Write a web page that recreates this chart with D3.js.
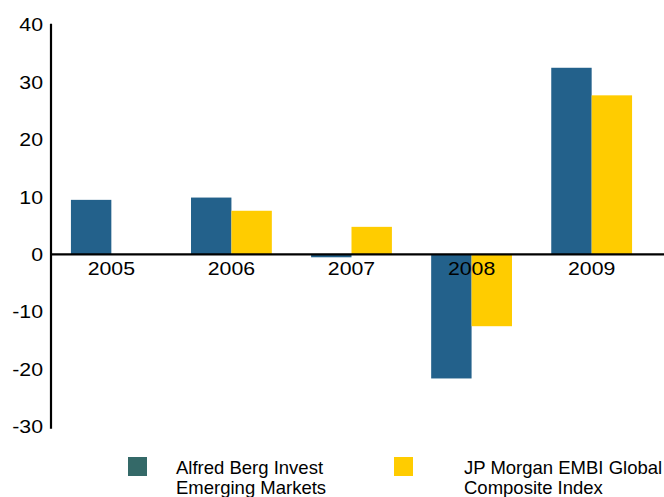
<!DOCTYPE html>
<html>
<head>
<meta charset="utf-8">
<script src="https://cdn.jsdelivr.net/npm/d3@7/dist/d3.min.js"></script>
<style>
  body { margin: 0; background: #fff; }
  svg text { font-family: 'Liberation Sans', Arial, sans-serif; fill: #000; }
</style>
</head>
<body>
<div id="chart"></div>
<script>
const years = ['2005', '2006', '2007', '2008', '2009'];
const alfredBerg = [9.5, 9.9, -0.5, -21.6, 32.5];
const jpMorgan = [null, 7.6, 4.8, -12.5, 27.7];
const yTicks = [40, 30, 20, 10, 0, -10, -20, -30];
const seriesNames = [
  ['Alfred Berg Invest', 'Emerging Markets'],
  ['JP Morgan EMBI Global', 'Composite Index'],
];

const width = 664;
const height = 497;
const left = 51;

const svg = d3
  .select('#chart')
  .append('svg')
  .attr('width', width)
  .attr('height', height);

const yScale = d3
  .scaleLinear()
  .domain([-30, 40])
  .range([426.7, 24.7]);

const xScale = d3
  .scaleBand()
  .domain(years)
  .range([left, left + 601])
  .paddingInner(0.327)
  .paddingOuter(0.166);

const sub = d3
  .scaleBand()
  .domain([0, 1])
  .range([0, xScale.bandwidth()]);

const colors = ['#23618B', '#FFCC00'];

// stretch labels a bit wider, the original font runs wide
function widen(sel, k) {
  sel.each(function () {
    const w = this.getComputedTextLength();
    d3.select(this).attr('textLength', w * k).attr('lengthAdjust', 'spacingAndGlyphs');
  });
}

// y axis
const yAxis = svg
  .append('g')
  .attr('transform', `translate(${left},0)`)
  .call(d3.axisLeft(yScale).tickValues(yTicks).tickSize(0).tickPadding(8)
    .tickFormat(d => String(d)));
yAxis.select('.domain').attr('stroke', '#000').attr('stroke-width', 2.2)
  .attr('d', `M0,${yScale(40) - 1}V${yScale(-30) + 2}`);
yAxis.selectAll('text')
  .style('font-size', '19px')
  .style('font-family', "'Liberation Sans', Arial, sans-serif")
  .call(widen, 1.12);

// bars
[alfredBerg, jpMorgan].forEach((series, i) => {
  svg
    .append('g')
    .selectAll('rect')
    .data(series.map((v, j) => ({ year: years[j], v })).filter(d => d.v !== null))
    .enter()
    .append('rect')
    .attr('x', d => xScale(d.year) + sub(i))
    .attr('width', sub.bandwidth())
    .attr('y', d => Math.min(yScale(d.v), yScale(0)))
    .attr('height', d => Math.abs(yScale(d.v) - yScale(0)))
    .attr('fill', colors[i]);
});

// zero line with category labels
const xAxis = svg
  .append('g')
  .attr('transform', `translate(0,${yScale(0)})`)
  .call(d3.axisBottom(xScale).tickSize(0).tickPadding(7));
xAxis.select('.domain').attr('stroke', '#000').attr('stroke-width', 2.4)
  .attr('d', `M${left},0H${width}`);
xAxis.selectAll('text')
  .style('font-size', '19px')
  .style('font-family', "'Liberation Sans', Arial, sans-serif")
  .call(widen, 1.12);

// legend
const legendX = [128, 394];
const legendColors = ['#346968', '#FFCC00'];
seriesNames.forEach((lines, i) => {
  const g = svg.append('g').attr('transform', `translate(${legendX[i]},457)`);
  g.append('rect')
    .attr('width', 19)
    .attr('height', 19)
    .attr('fill', legendColors[i]);
  const t = g.append('text')
    .attr('y', 17)
    .style('font-size', '18.5px');
  lines.forEach((s, k) => {
    t.append('tspan').attr('x', i === 0 ? 48 : 70).attr('dy', k === 0 ? 0 : 20).text(s);
  });
});
</script>
</body>
</html>
